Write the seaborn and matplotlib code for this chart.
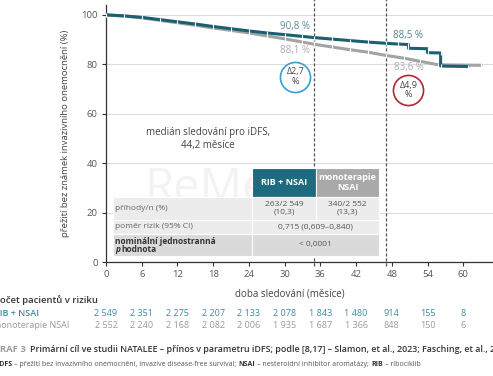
import matplotlib
matplotlib.use("Agg")
import matplotlib.pyplot as plt
from matplotlib.patches import Rectangle
import seaborn as sns
import pandas as pd

# ---------------- data ----------------
months_rib = [0, 3, 6, 9, 12, 15, 18, 21, 24, 27, 30, 33, 35, 38, 41, 44, 47, 49,
              50.8, 50.8, 54, 54, 56.2, 56.2, 60.8]
surv_rib = [100, 99.6, 99.0, 98.1, 97.2, 96.3, 95.3, 94.4, 93.5, 92.7, 92.0, 91.3,
            90.8, 90.2, 89.6, 89.0, 88.5, 88.2, 88.0, 86.5, 86.3, 84.7, 84.6, 79.3, 79.1]
months_nsai = [0, 3, 6, 9, 12, 15, 18, 21, 24, 27, 30, 33, 35, 38, 41, 44, 47, 50,
               52.8, 55.8, 63]
surv_nsai = [100, 99.5, 98.8, 97.8, 96.8, 95.8, 94.7, 93.7, 92.7, 91.5, 90.3, 89.0,
             88.1, 87.0, 85.9, 84.9, 83.6, 82.5, 81.2, 79.8, 79.6]

arm_labels = ["monoterapie NSAI", "RIB + NSAI"]
landmarks = [35, 47]
landmark_rib = ["90,8 %", "88,5 %"]
landmark_nsai = ["88,1 %", "83,6 %"]
deltas = ["Δ2,7\n%", "Δ4,9\n%"]

risk_months = [0, 6, 12, 18, 24, 30, 36, 42, 48, 54, 60]
risk_rib = ["2 549", "2 351", "2 275", "2 207", "2 133", "2 078", "1 843", "1 480", "914", "155", "8"]
risk_nsai = ["2 552", "2 240", "2 168", "2 082", "2 006", "1 935", "1 687", "1 366", "848", "150", "6"]

table_events = ["263/2 549\n(10,3)", "340/2 552\n(13,3)"]
table_hr = "0,715 (0,609–0,840)"
table_p = "< 0,0001"

# ---------------- style ----------------
sns.set_theme(style="white")
plt.rcParams["font.family"] = ["Open Sans", "DejaVu Sans"]

TEAL = "#1b5f73"
GRAY = "#a3a3a3"
TXT = "#444444"

W, H = 493, 376
fig = plt.figure(figsize=(W / 100, H / 100), dpi=100)
ax = fig.add_axes([106 / W, (H - 262) / H, (W - 106) / W, (262 - 5) / H])

df = pd.concat([
    pd.DataFrame({"month": months_nsai, "surv": surv_nsai, "arm": arm_labels[0]}),
    pd.DataFrame({"month": months_rib, "surv": surv_rib, "arm": arm_labels[1]}),
])
sns.lineplot(data=df, x="month", y="surv", hue="arm", hue_order=arm_labels,
             palette={arm_labels[0]: GRAY, arm_labels[1]: TEAL},
             estimator=None, sort=False, legend=False, linewidth=2.2,
             marker="|", markersize=3.5, markeredgewidth=0.8, ax=ax, zorder=4)

ax.set_xlim(0, 65)
ax.set_ylim(0, 104)
ax.set_xticks(risk_months)
ax.set_yticks([0, 20, 40, 60, 80, 100])
ax.grid(axis="y", color="#dcdcdc", linewidth=0.8, zorder=0)
for s in ["top", "right"]:
    ax.spines[s].set_visible(False)
for s in ["left", "bottom"]:
    ax.spines[s].set_color("#333333")
    ax.spines[s].set_linewidth(0.9)
ax.tick_params(axis="both", which="both", direction="out", length=3, width=0.8,
               color="#333333", labelcolor="#555555", labelsize=6.8, pad=3,
               left=True, bottom=True)

ax.set_ylabel("přežití bez známek invazivního onemocnění (%)", fontsize=6.8, color=TXT)
ax.yaxis.set_label_coords(-36 / 387, 0.5)
ax.set_xlabel("doba sledování (měsíce)", fontsize=7, color=TXT)
ax.xaxis.set_label_coords((290 - 106) / 387, -(289 - 262) / 257)

# landmark dashed lines
for m in landmarks:
    ax.axvline(m, ymin=-0.015, ymax=1.03, color="#555555", linewidth=0.9,
               linestyle=(0, (2.5, 1.5)), clip_on=False, zorder=2)

# landmark labels
ax.text(31.8, (262 - 27) / 2.47, landmark_rib[0], fontsize=7, color="#5f8a99", ha="center", va="center", zorder=6)
ax.text(31.8, (262 - 51) / 2.47, landmark_nsai[0], fontsize=7, color="#aaaaaa", ha="center", va="center", zorder=6)
ax.text(50.8, (262 - 36) / 2.47, landmark_rib[1], fontsize=7, color="#4f8194", ha="center", va="center", zorder=6)
ax.text(50.8, (262 - 68) / 2.47, landmark_nsai[1], fontsize=7, color="#aaaaaa", ha="center", va="center", zorder=6)

# delta circles
for (cx, cy, ec), d in zip([(31.8, 75.0, "#3a9fd0"), (50.8, 69.6, "#b3262f")], deltas):
    ax.scatter([cx], [cy], s=470, facecolor="white", edgecolor=ec, linewidth=1.2, zorder=5)
    ax.text(cx, cy, d, fontsize=6.5, color=TXT, ha="center", va="center",
            linespacing=1.1, zorder=6)

# median text
ax.text(17.1, 49.8, "medián sledování pro iDFS,\n44,2 měsíce", fontsize=7, color=TXT,
        ha="center", va="center", linespacing=1.3, zorder=6)

# watermark
ax.text(6.5, 29.5, "ReMeDiA", fontsize=34, color="#f3f3f3", ha="left", va="center", zorder=1)

# ---------------- inner table ----------------
def px2x(px):
    return (px - 106) / 5.95

def py2y(py):
    return (262 - py) / 2.47

xL, xC1, xC2, xR = px2x(113), px2x(252), px2x(316), px2x(379)
yT, yH, y1, y2, y3 = py2y(168), py2y(197), py2y(220), py2y(234), py2y(256)

def rect(x0, x1, ya, yb, color):
    ax.add_patch(Rectangle((x0, yb), x1 - x0, ya - yb, facecolor=color,
                           edgecolor="white", linewidth=0.8, zorder=7))

rect(xC1, xC2, yT, yH, "#1f6a7e")
rect(xC2, xR, yT, yH, "#a9a9a9")
rect(xL, xC1, yH, y1, "#ececec")
rect(xC1, xC2, yH, y1, "#ececec")
rect(xC2, xR, yH, y1, "#ececec")
rect(xL, xC1, y1, y2, "#ececec")
rect(xC1, xR, y1, y2, "#ececec")
rect(xL, xC1, y2, y3, "#dadada")
rect(xC1, xR, y2, y3, "#dadada")

tk = dict(zorder=8, va="center")
ax.text((xC1 + xC2) / 2, (yT + yH) / 2, "RIB + NSAI", fontsize=6.5, color="white",
        fontweight="bold", ha="center", **tk)
ax.text((xC2 + xR) / 2, (yT + yH) / 2, "monoterapie\nNSAI", fontsize=6.5, color="white",
        fontweight="bold", ha="center", linespacing=1.2, **tk)
ax.text(xL + 0.4, (yH + y1) / 2, "příhody/n (%)", fontsize=6, color="#666666", ha="left", **tk)
ax.text(xL + 0.4, (y1 + y2) / 2, "poměr rizik (95% CI)", fontsize=6, color="#666666", ha="left", **tk)
ax.text(xL + 0.4, py2y(242), "nominální jednostranná", fontsize=6, color="#333333",
        fontweight="bold", ha="left", **tk)
ax.text(xL + 0.4, py2y(250), "p", fontsize=6, color="#333333", fontweight="bold",
        fontstyle="italic", ha="left", **tk)
ax.text(xL + 1.45, py2y(250), "hodnota", fontsize=6, color="#333333", fontweight="bold",
        ha="left", **tk)
ax.text((xC1 + xC2) / 2, (yH + y1) / 2, table_events[0], fontsize=6, color="#555555",
        ha="center", linespacing=1.15, **tk)
ax.text((xC2 + xR) / 2, (yH + y1) / 2, table_events[1], fontsize=6, color="#555555",
        ha="center", linespacing=1.15, **tk)
ax.text((xC1 + xR) / 2, (y1 + y2) / 2, table_hr, fontsize=6, color="#555555", ha="center", **tk)
ax.text((xC1 + xR) / 2, (y2 + y3) / 2, table_p, fontsize=6, color="#555555", ha="center", **tk)

# ---------------- risk table ----------------
trans = ax.get_xaxis_transform()
for m, a, b in zip(risk_months, risk_rib, risk_nsai):
    ax.text(m, -(313 - 262) / 257, a, transform=trans, fontsize=6.5, color="#3d8aa0",
            ha="center", va="center", clip_on=False)
    ax.text(m, -(326 - 262) / 257, b, transform=trans, fontsize=6.5, color="#9a9a9a",
            ha="center", va="center", clip_on=False)

fig.text(-6 / W, 1 - 300 / H, "Počet pacientů v riziku", fontsize=6.8, color="#333333",
         fontweight="semibold", ha="left", va="center")
fig.text(-6 / W, 1 - 313 / H, "RIB + NSAI", fontsize=6.5, color="#3d8aa0",
         fontweight="semibold", ha="left", va="center")
fig.text(-7 / W, 1 - 326 / H, "monoterapie NSAI", fontsize=6.5, color="#9a9a9a",
         ha="left", va="center")

# ---------------- caption ----------------
renderer = fig.canvas.get_renderer()

def chain(parts, x0_px, y_px, size):
    x = x0_px
    for s, w, c, gap in parts:
        t = fig.text(x / W, 1 - y_px / H, s, fontsize=size, fontweight=w, color=c,
                     ha="left", va="center")
        bb = t.get_window_extent(renderer)
        x = bb.x1 + gap

fig.text(-7 / W, 1 - 349 / H, "GRAF 3", fontsize=6.8, color="#9a9a9a",
         fontweight="bold", ha="left", va="center")
fig.text(30 / W, 1 - 349 / H,
         "Primární cíl ve studii NATALEE – přínos v parametru iDFS; podle [8,17] – Slamon, et al., 2023; Fasching, et al., 2024",
         fontsize=6.4, color="#333333", fontweight="semibold", ha="left", va="center")

chain([("iDFS", "bold", "#333333", 2),
       ("– přežití bez invazivního onemocnění, invazive disease-free survival;", "normal", "#555555", 2),
       ("NSAI", "bold", "#333333", 2),
       ("– nesteroidní inhibitor aromatázy;", "normal", "#555555", 2),
       ("RIB", "bold", "#333333", 2),
       ("– ribociklib", "normal", "#555555", 0)],
      -3, 364, 5.0)

fig.savefig("out.png", dpi=100)
